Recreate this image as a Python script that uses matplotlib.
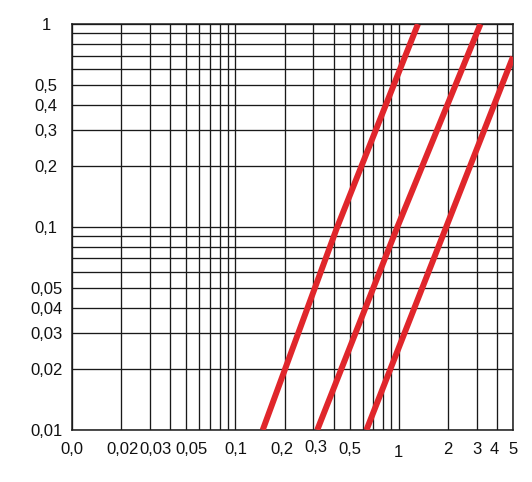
import numpy as np
import matplotlib
matplotlib.use('Agg')
import matplotlib.pyplot as plt
from matplotlib import font_manager
from matplotlib.transforms import ScaledTranslation

# lines (log-log, nearly straight)
x1 = [0.147, 0.42, 1.31]
y1 = [0.01, 0.1, 1.0]
x2 = [0.317, 0.98, 3.16]
y2 = [0.01, 0.1, 1.0]
x3 = [0.634, 1.95, 5.0]
y3 = [0.01, 0.1, 0.69]

xticks = [0.01, 0.02, 0.03, 0.05, 0.1, 0.2, 0.3, 0.5, 1, 2, 3, 4, 5]
xlabels = ['0,0', '0,02', '0,03', '0,05', '0,1', '0,2', '0,3', '0,5', '1', '2', '3', '4', '5']
yticks = [0.01, 0.02, 0.03, 0.04, 0.05, 0.1, 0.2, 0.3, 0.4, 0.5, 1]
ylabels = ['0,01', '0,02', '0,03', '0,04', '0,05', '0,1', '0,2', '0,3', '0,4', '0,5', '1']

# the original lettering is a narrow sans; use the narrow Liberation face if it is there
installed = {f.name for f in font_manager.fontManager.ttflist}
if 'Liberation Sans Narrow' in installed:
    plt.rcParams['font.family'] = ['Liberation Sans Narrow', 'DejaVu Sans']
    fsize = 13
else:
    plt.rcParams['font.family'] = ['Liberation Sans', 'DejaVu Sans']
    fsize = 12

fig = plt.figure(figsize=(5.32, 4.82), dpi=100)
ax = fig.add_axes([0.1353, 0.108, 0.829, 0.842])

red = '#e0262b'
for xs, ys in [(x1, y1), (x2, y2), (x3, y3)]:
    ax.plot(xs, ys, color=red, linewidth=4.3, solid_capstyle='butt', zorder=3)

ax.set_xscale('log')
ax.set_yscale('log')
ax.set_xlim(0.01, 5)
ax.set_ylim(0.01, 1)

ax.set_xticks(xticks)
ax.set_xticklabels(xlabels)
ax.set_yticks(yticks)
ax.set_yticklabels(ylabels)

# every 1..9 per decade gets a grid line
xminor = [m * 10.0**e for e in (-2, -1, 0) for m in range(1, 10) if m * 10.0**e <= 5]
yminor = [m * 10.0**e for e in (-2, -1) for m in range(1, 11)]
ax.set_xticks(xminor, minor=True)
ax.set_yticks(yminor, minor=True)
ax.tick_params(which='minor', length=0, labelbottom=False, labelleft=False)
ax.tick_params(which='major', length=0, labelsize=fsize, colors='#111111')
ax.tick_params(axis='x', pad=9)
ax.tick_params(axis='y', pad=18.5)
for lab in ax.get_yticklabels():
    lab.set_horizontalalignment('center')

# the labels in the original sit a little off their lines
nudge = {'0,02': (1, 0), '0,03': (6, 0), '0,05': (5, 0), '0,2': (-3, 0),
         '0,3': (3, 2), '1': (0, -3), '4': (-3, 0)}
for lab in ax.get_xticklabels():
    dx, dy = nudge.get(lab.get_text(), (0, 0))
    lab.set_transform(lab.get_transform() + ScaledTranslation(dx / 100, dy / 100, fig.dpi_scale_trans))

ax.grid(True, which='both', color='#1a1a1a', linewidth=0.95)
for s in ax.spines.values():
    s.set_color('#1a1a1a')
    s.set_linewidth(1.1)

fig.savefig('out.png', dpi=100)
